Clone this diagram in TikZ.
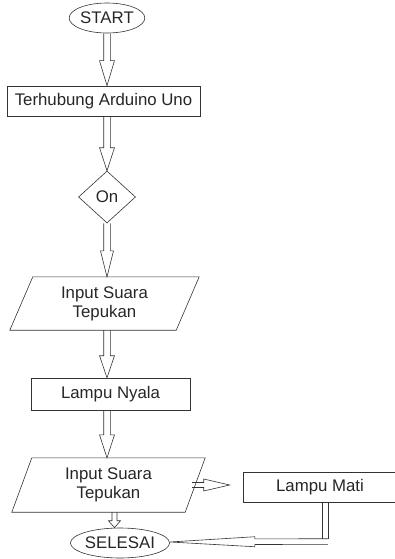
\documentclass[tikz,border=0pt]{standalone}
\usepackage{fontspec}
\setmainfont{Liberation Sans}
\usetikzlibrary{shapes.geometric,calc}

\begin{document}
\begin{tikzpicture}[
	x=1pt, y=-1pt,
	every node/.style={font=\fontsize{16.8}{19}\selectfont, text=black!85},
	shaft width/.store in=\shaftw, shaft width=3.3pt,
	head width/.store in=\headw, head width=7.5pt,
	head length/.store in=\headl, head length=25pt,
	terminal/.style={
		ellipse,
		draw=black!80,
		line width=0.6pt,
		minimum width=73pt,
		minimum height=30pt,
		inner sep=0pt,
	},
	process/.style={
		rectangle,
		draw=black!80,
		line width=0.6pt,
		minimum height=30pt,
		inner sep=0pt,
	},
	decision/.style={
		diamond,
		draw=black!80,
		line width=0.6pt,
		minimum width=57pt,
		minimum height=52pt,
		inner sep=0pt,
	},
	data/.style={
		rectangle,
		align=center,
		inner sep=0pt,
	},
	outline/.style={
		draw=black!80,
		line width=0.6pt,
	},
	% hollow block arrow: two shaft lines and an open head
	hollow/.style={
		outline,
		line join=miter,
		to path={
			let \p1=(\tikztostart), \p2=(\tikztotarget),
				\p3=($(\p2)!\headl!(\p1)$)
			in ($(\p1)!\shaftw!90:(\p2)$) -- ($(\p3)!\shaftw!-90:(\p1)$)
				-- ($(\p3)!\headw!-90:(\p1)$) -- (\p2)
				-- ($(\p3)!\headw!90:(\p1)$) -- ($(\p3)!\shaftw!90:(\p1)$)
				-- ($(\p1)!\shaftw!-90:(\p2)$)
		},
	},
	% shaft only
	shaft/.style={
		outline,
		to path={
			let \p1=(\tikztostart), \p2=(\tikztotarget) in
			($(\p1)!\shaftw!90:(\p2)$) -- ($(\p2)!\shaftw!-90:(\p1)$)
			($(\p1)!\shaftw!-90:(\p2)$) -- ($(\p2)!\shaftw!90:(\p1)$)
		},
	},
]
	\useasboundingbox (0,0) rectangle (395,559);

	\node (start) [terminal] at (107,18) {START};
	\node (arduino) [process,minimum width=193pt] at (103.5,101)
		{Terhubung Arduino Uno};
	\node (on) [decision] at (107,197) {On};
	\node (input1) [data,minimum width=189pt,minimum height=53pt] at (104.5,303.5)
		{Input Suara \\Tepukan};
	\node (nyala) [process,minimum width=159pt,minimum height=32pt] at (110.5,394)
		{Lampu Nyala};
	\node (input2) [data,minimum width=193pt,minimum height=54pt] at (108.5,485)
		{Input Suara \\Tepukan};
	\node (mati) [process,minimum width=154pt] at (320,487)
		{Lampu Mati};
	\node (selesai) [terminal,minimum width=76pt] at (120,543)
		{SELESAI};
	\coordinate (bend) at ([xshift=5pt,yshift=1.5pt]mati.south |- selesai.east);

	\draw [outline] ([xshift=23pt]input1.north west) -- (input1.north east)
		-- ([xshift=-23pt]input1.south east) -- (input1.south west) -- cycle;
	\draw [outline] ([xshift=20pt]input2.north west) -- (input2.north east)
		-- ([xshift=-20pt]input2.south east) -- (input2.south west) -- cycle;

	\draw [hollow] (start.south) to (start.south |- arduino.north);
	\draw [hollow,head length=23pt] (arduino.south -| on.north) to (on.north);
	\draw [hollow,head length=26pt,head width=6.5pt] (on.south)
		to (on.south |- input1.north);
	\draw [hollow,head length=22pt] (input1.south -| on.south)
		to (on.south |- nyala.north);
	\draw [hollow,head length=23pt] (nyala.south -| on.south)
		to (on.south |- input2.north);
	\draw [hollow,shaft width=2.5pt,head width=6pt,head length=26pt]
		([xshift=-13pt]input2.east) to ([xshift=-13pt]input2.east -| mati.west);
	\draw [hollow,shaft width=2.5pt,head width=6pt,head length=7pt]
		([xshift=-5.5pt]selesai.north |- input2.south) to ([xshift=-5.5pt]selesai.north);
	\draw [shaft,shaft width=2.8pt] ([xshift=5pt]mati.south) to ([yshift=2.8pt]bend);
	\draw [hollow,shaft width=2.8pt,head width=5pt,head length=85pt]
		([xshift=2.8pt]bend) to ([yshift=1pt]selesai.east);

\end{tikzpicture}
\end{document}
